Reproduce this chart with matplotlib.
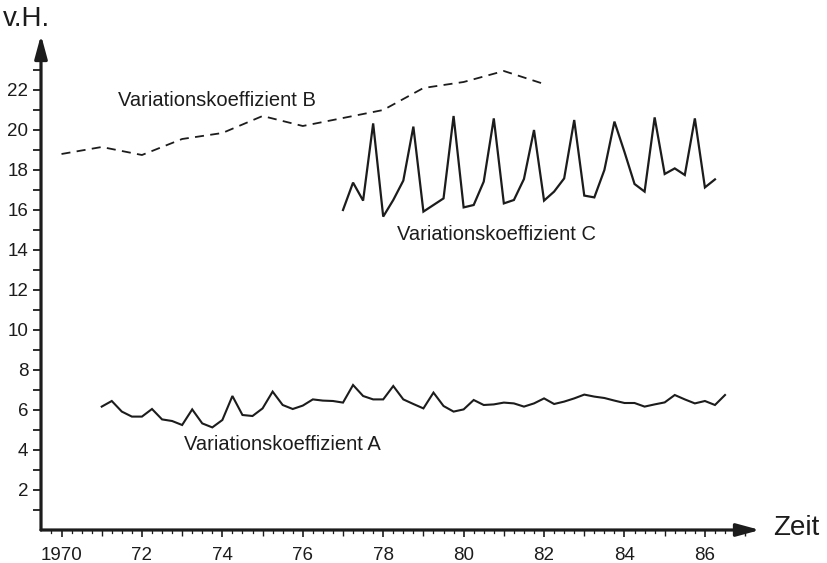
import numpy as np
import matplotlib.pyplot as plt

plt.rcParams['font.family'] = ['Liberation Sans Narrow', 'Liberation Sans', 'DejaVu Sans']

# Variationskoeffizient A, quarterly from 1971
werte_a = [6.17, 6.45, 5.92, 5.67, 5.67, 6.05, 5.53, 5.45, 5.25, 6.03,
           5.33, 5.13, 5.5, 6.7, 5.75, 5.7, 6.08, 6.92, 6.25, 6.05,
           6.22, 6.53, 6.47, 6.45, 6.37, 7.25, 6.7, 6.53, 6.53, 7.2,
           6.53, 6.3, 6.08, 6.87, 6.2, 5.92, 6.03, 6.5, 6.25, 6.28,
           6.37, 6.33, 6.17, 6.33, 6.58, 6.3, 6.42, 6.58, 6.77, 6.67,
           6.6, 6.47, 6.35, 6.35, 6.17, 6.28, 6.38, 6.75, 6.53, 6.33,
           6.45, 6.25, 6.75]
start_a = 1971.0

# Variationskoeffizient B, yearly 1970-1982
jahre_b = [1970, 1971, 1972, 1973, 1974, 1975, 1976, 1977, 1978, 1979, 1980, 1981, 1982]
werte_b = [18.8, 19.15, 18.75, 19.55, 19.85, 20.7, 20.2, 20.6, 21.0, 22.1, 22.4, 22.95, 22.3]

# Variationskoeffizient C, quarterly from 1977
werte_c = [16.0, 17.37, 16.47, 20.33, 15.67, 16.5, 17.47, 20.17, 15.92, 16.25,
           16.58, 20.7, 16.13, 16.25, 17.42, 20.58, 16.33, 16.5, 17.55, 20.0,
           16.47, 16.92, 17.58, 20.5, 16.72, 16.63, 18.0, 20.42, 18.9, 17.3,
           16.92, 20.63, 17.8, 18.08, 17.75, 20.58, 17.13, 17.53]
start_c = 1977.0

x_labels = ['1970', '72', '74', '76', '78', '80', '82', '84', '86']
x_label_pos = [1970, 1972, 1974, 1976, 1978, 1980, 1982, 1984, 1986]
y_labels = [2, 4, 6, 8, 10, 12, 14, 16, 18, 20, 22]

ink = '#1c1c1c'
W, H = 828, 563
fig = plt.figure(figsize=(W / 100, H / 100), dpi=100)
ax = fig.add_axes([41 / W, (H - 530) / H, (760 - 41) / W, (530 - 35) / H])
ax.set_xlim(1969.49, 1987.37)
ax.set_ylim(0, 24.75)

qa = start_a + np.arange(len(werte_a)) / 4
qc = start_c + np.arange(len(werte_c)) / 4
ax.plot(qa, werte_a, color=ink, lw=1.5, solid_joinstyle='miter')
ax.plot(jahre_b, werte_b, color=ink, lw=1.3, dashes=(5, 3.5))
ax.plot(qc, werte_c, color=ink, lw=1.6, solid_joinstyle='miter')

for s in ax.spines.values():
    s.set_visible(False)

# axes with arrow heads
arrow = dict(arrowstyle='-|>,head_length=1.4,head_width=0.38', color=ink, lw=2.3,
             shrinkA=0, shrinkB=0)
ax.annotate('', xy=(1, 0), xytext=(0, 0), xycoords='axes fraction', arrowprops=arrow)
ax.annotate('', xy=(0, 1), xytext=(0, 0), xycoords='axes fraction', arrowprops=arrow)

ax.set_yticks(y_labels)
ax.set_yticklabels([str(v) for v in y_labels])
ax.set_yticks(np.arange(1, 24, 2), minor=True)
ax.set_xticks(x_label_pos)
ax.set_xticklabels(x_labels)
ax.set_xticks(np.arange(1970, 1987.1, 1), minor=True)
ax.tick_params(axis='y', which='both', direction='out', length=6, width=1.3,
               color=ink, labelsize=13.5, labelcolor=ink, pad=3)
ax.tick_params(axis='x', which='major', direction='out', length=5, width=1.2,
               color=ink, labelsize=13.5, labelcolor=ink, pad=7)
ax.tick_params(axis='x', which='minor', direction='out', length=4, width=1.0, color=ink)

# quarter ticks on the time axis
for q in np.arange(1969.75, 1987.0, 0.25):
    if abs(q - round(q)) > 0.01:
        ax.plot([q, q], [0, -0.15], color=ink, lw=0.9, clip_on=False)

ax.text(1971.4, 21.5, 'Variationskoeffizient B', fontsize=14.5, color=ink, va='center')
ax.text(1978.35, 14.75, 'Variationskoeffizient C', fontsize=14.5, color=ink, va='center')
ax.text(1973.05, 4.25, 'Variationskoeffizient A', fontsize=14.5, color=ink, va='center')

fig.text(3 / W, 1 - 19 / H, 'v.H.', fontsize=20, color=ink, va='center', ha='left')
fig.text(773 / W, 1 - 528 / H, 'Zeit', fontsize=20, color=ink, va='center', ha='left')

fig.savefig('out.png', dpi=100, facecolor='white')
